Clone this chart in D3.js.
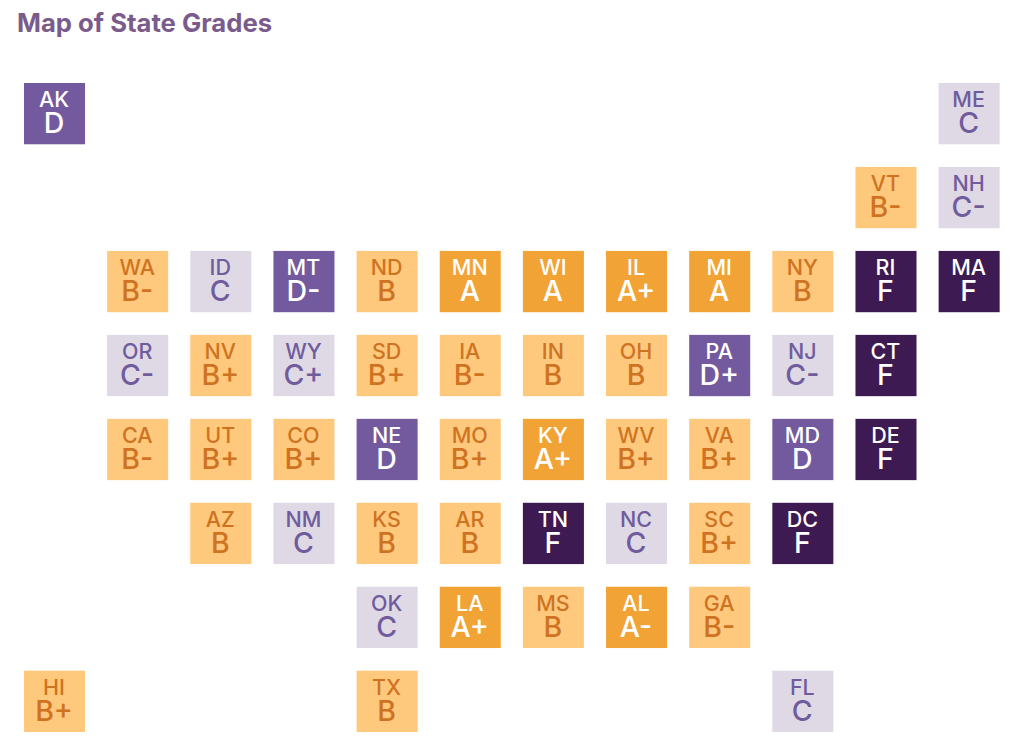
<!DOCTYPE html>
<html><head><meta charset="utf-8">
<script src="https://cdn.jsdelivr.net/npm/d3@7/dist/d3.min.js"></script>
<style>html,body{margin:0;padding:0;background:#fff}svg{display:block}</style>
</head><body><svg id="c" width="1024" height="752"></svg>
<script>
const titleText = "Map of State Grades";
const states = ["AK","ME","VT","NH","WA","ID","MT","ND","MN","WI","IL","MI","NY","RI","MA","OR","NV","WY","SD","IA","IN","OH","PA","NJ","CT","CA","UT","CO","NE","MO","KY","WV","VA","MD","DE","AZ","NM","KS","AR","TN","NC","SC","DC","OK","LA","MS","AL","GA","HI","TX","FL"];
const grades = ["D","C","B-","C-","B-","C","D-","B","A","A","A+","A","B","F","F","C-","B+","C+","B+","B-","B","B","D+","C-","F","B-","B+","B+","D","B+","A+","B+","B+","D","F","B","C","B","B","F","C","B+","F","C","A+","B","A-","B-","B+","B","C"];
const gridCols = [0,11,10,11,1,2,3,4,5,6,7,8,9,10,11,1,2,3,4,5,6,7,8,9,10,1,2,3,4,5,6,7,8,9,10,2,3,4,5,6,7,8,9,4,5,6,7,8,0,4,9];
const gridRows = [0,0,1,1,2,2,2,2,2,2,2,2,2,2,2,3,3,3,3,3,3,3,3,3,3,4,4,4,4,4,4,4,4,4,4,5,5,5,5,5,5,5,5,6,6,6,6,6,7,7,7];
const gradeLetters = ["A","B","C","D","F"];
const fills = ["#f2a335","#fec97c","#dfd9e6","#735a9e","#3d1a51"];
const inks = ["#ffffff","#cf7322","#705c9c","#ffffff","#ffffff"];

const x = d3.scaleBand().domain(d3.range(12)).range([24, 999.65]).paddingInner(0.266).paddingOuter(0);
const y = d3.scaleBand().domain(d3.range(8)).range([83, 732]).paddingInner(0.27).paddingOuter(0);
const fill = d3.scaleOrdinal(gradeLetters, fills);
const ink = d3.scaleOrdinal(gradeLetters, inks);

const svg = d3.select("#c");
svg.append("text").attr("x", 17).attr("y", 32).attr("fill", "#7b5b8c")
  .attr("font-family", "Inter, sans-serif").attr("font-weight", 700).attr("font-size", 25.7).text(titleText);

const cell = svg.selectAll("g.cell").data(states.map((s, i) => ({s, g: grades[i], c: gridCols[i], r: gridRows[i]})))
  .join("g").attr("class", "cell").attr("transform", d => `translate(${x(d.c)},${y(d.r)})`);
cell.append("rect").attr("width", x.bandwidth()).attr("height", y.bandwidth()).attr("fill", d => fill(d.g[0]));
const label = cell.append("text").attr("text-anchor", "middle")
  .attr("font-family", "Inter, sans-serif").attr("font-weight", 500).attr("fill", d => ink(d.g[0]));
label.append("tspan").attr("x", x.bandwidth() / 2 - 0.5).attr("y", 24).attr("font-size", 21.5).text(d => d.s);
label.append("tspan").attr("x", x.bandwidth() / 2 - 0.5).attr("y", 50).attr("font-size", 28.5).text(d => d.g);
</script></body></html>
